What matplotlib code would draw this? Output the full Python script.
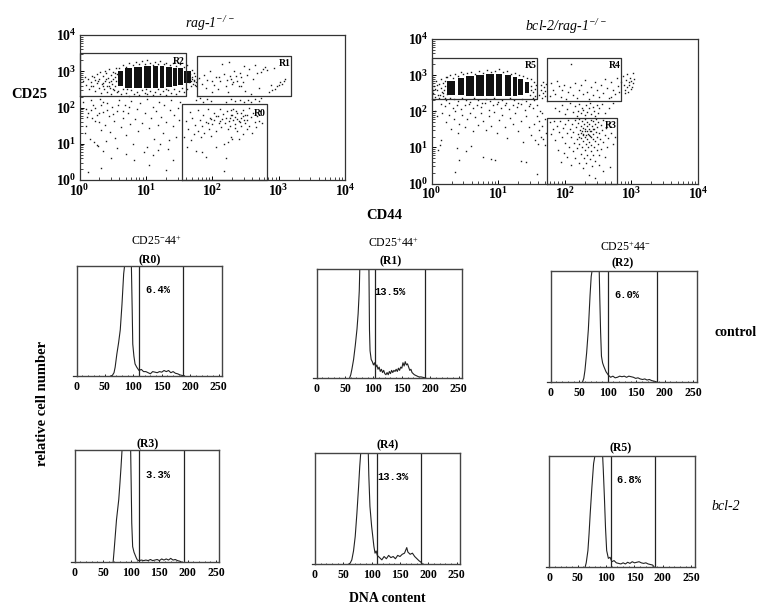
# Flow cytometry figure: CD25/CD44 dot plots and DNA content histograms
import numpy as np
import matplotlib
matplotlib.use("Agg")
import matplotlib.pyplot as plt
from matplotlib.ticker import LogLocator, LogFormatterMathtext, MultipleLocator

plt.rcParams['font.family'] = ['Liberation Serif', 'DejaVu Serif']
plt.rcParams['mathtext.default'] = 'regular'

W, H = 760, 603

# dot plot values, log10 of (CD44, CD25)
rag_band_left = [.58, .68, .82, .97, 1.10, 1.22, 1.30, 1.41, 1.49, 1.58]
rag_band_right = [.65, .79, .94, 1.08, 1.19, 1.28, 1.39, 1.47, 1.56, 1.68]
rag_band_low = [2.60, 2.55, 2.53, 2.53, 2.55, 2.55, 2.57, 2.60, 2.62, 2.68]
rag_band_high = [3.02, 3.08, 3.12, 3.14, 3.14, 3.14, 3.12, 3.10, 3.08, 3.02]
rag_dots = [
    # left of the band
    (.05,2.72),(.08,2.85),(.10,2.62),(.13,2.78),(.15,2.50),(.17,2.70),(.19,2.88),(.21,2.60),(.23,2.75),(.24,2.45),
    (.26,2.92),(.27,2.68),(.29,2.55),(.30,2.80),(.31,2.98),(.33,2.40),(.34,2.65),(.35,2.86),(.37,2.52),(.38,2.74),
    (.39,3.02),(.40,2.94),(.41,2.60),(.42,2.44),(.43,2.82),(.44,2.70),(.45,3.05),(.46,2.54),(.47,2.90),(.48,2.36),
    (.49,2.66),(.50,2.78),(.51,2.97),(.52,2.48),(.53,2.60),(.54,2.84),(.55,3.08),(.55,2.72),(.56,2.42),(.57,2.92),
    (.36,2.68),(.40,2.78),(.44,2.58),(.47,2.74),(.50,2.50),(.53,2.96),(.35,2.60),(.28,2.74),(.22,2.84),(.18,2.58),
    # above the band
    (.60,3.10),(.66,3.18),(.70,3.12),(.75,3.22),(.80,3.16),(.85,3.25),(.90,3.19),(.94,3.28),(.98,3.20),(1.02,3.30),
    (1.06,3.22),(1.10,3.18),(1.14,3.26),(1.18,3.21),(1.22,3.29),(1.27,3.19),(1.31,3.24),(1.36,3.17),(1.41,3.22),(1.46,3.15),
    (1.52,3.19),(1.58,3.13),(1.62,3.17),
    # under the band
    (.58,2.45),(.62,2.36),(.66,2.50),(.70,2.40),(.74,2.33),(.78,2.47),(.82,2.38),(.86,2.44),(.90,2.34),(.94,2.48),
    (.98,2.40),(1.02,2.36),(1.06,2.46),(1.10,2.34),(1.14,2.42),(1.18,2.50),(1.22,2.37),(1.26,2.45),(1.30,2.34),(1.34,2.48),
    (1.38,2.40),(1.42,2.52),(1.46,2.36),(1.50,2.46),(1.54,2.54),(1.58,2.42),(1.62,2.50),(1.30,2.50),(1.00,2.50),(.72,2.52),
    # right of the band, between the gates
    (1.66,2.92),(1.68,2.74),(1.70,2.84),(1.71,2.66),(1.72,2.96),(1.73,2.76),(1.74,2.88),(1.75,2.70),(1.76,2.58),(1.77,2.80),
    (1.68,2.60),(1.70,3.04),(1.65,2.70),(1.69,2.80),(1.72,2.72),(1.66,2.82),(1.74,2.62),(1.64,2.98),
    # R1 gate
    (1.80,2.82),(1.84,2.66),(1.88,2.90),(1.92,2.76),(1.96,3.00),(2.00,2.44),(2.03,2.62),(2.06,2.84),(2.09,2.50),(2.12,2.72),
    (2.15,3.20),(2.18,2.92),(2.20,2.60),(2.23,2.42),(2.25,3.26),(2.28,2.80),(2.30,2.66),(2.33,3.02),(2.36,2.88),(2.38,2.74),
    (2.40,2.58),(2.42,2.96),(2.44,2.84),(2.46,2.70),(2.48,3.14),(2.50,2.46),(2.53,2.90),(2.56,3.06),(2.58,2.38),(2.61,2.78),
    (2.64,3.18),(2.67,2.94),(2.70,2.54),(2.73,2.98),(2.76,3.06),(2.79,3.12),(2.82,3.04),(2.85,2.42),(2.88,2.62),(2.90,2.48),
    (2.93,3.10),(2.95,2.52),(2.98,2.58),(3.00,2.62),(3.02,2.70),(3.05,2.66),(3.08,2.74),(3.10,2.80),(2.10,2.84),(2.22,2.76),
    (2.32,2.70),(2.26,2.88),(2.44,2.60),(2.00,2.72),(1.90,2.54),
    # just under the R1 gate
    (1.76,2.22),(1.82,2.26),(1.86,2.16),(1.92,2.24),(1.98,2.18),(2.20,2.14),(2.28,2.24),(2.34,2.18),(2.42,2.22),(2.48,2.14),
    (2.54,2.22),(2.58,2.16),(2.64,2.24),(2.70,2.18),(2.74,2.26),
    # sparse lower left
    (.21,2.07),(.33,2.07),(.13,1.84),(.27,1.80),(.33,1.38),(.26,.97),(.33,.32),(.13,.23),(1.04,.42),(1.31,.28),
    (1.41,.55),(1.19,.83),(1.01,.92),(.06,2.16),(.10,1.96),(.17,2.20),(.19,1.70),(.24,2.00),(.29,1.60),(.31,2.24),
    (.36,1.88),(.38,1.52),(.41,2.12),(.44,1.76),(.46,1.32),(.49,2.02),(.52,1.62),(.54,1.16),(.57,1.90),(.60,2.22),
    (.62,1.46),(.65,1.72),(.68,2.08),(.70,1.24),(.73,1.86),(.76,1.54),(.78,2.18),(.80,1.00),(.83,1.68),(.86,1.96),
    (.88,1.34),(.91,2.12),(.94,1.58),(.97,.78),(.99,1.84),(1.02,2.24),(1.05,1.44),(1.07,1.70),(1.10,2.02),(1.12,1.12),
    (1.15,1.90),(1.18,1.52),(1.20,2.16),(1.23,1.74),(1.26,1.30),(1.28,2.06),(1.31,1.60),(1.33,.86),(1.36,1.92),(1.38,2.22),
    (1.41,1.48),(1.43,1.78),(1.46,1.20),(1.48,2.00),(1.50,1.66),(1.52,2.14),(1.10,.70),(.48,.60),(.36,.80),(.10,1.50),
    (.08,1.30),(.16,1.14),(.22,1.06),(.28,.94),(.40,1.08),(.56,.88),(.70,.72),(.82,.56),(1.22,1.00),(1.35,1.10),
    (.12,1.74),(.18,1.92),(.24,1.64),(.30,1.84),(.36,2.14),(.42,1.94),(.50,1.82),(.58,2.06),(.66,1.90),(.74,2.02),
    # R0 gate
    (1.58,1.20),(1.60,1.62),(1.62,.92),(1.64,1.42),(1.66,1.88),(1.68,1.10),(1.70,1.70),(1.72,1.26),(1.74,1.52),(1.76,.80),
    (1.78,1.92),(1.79,1.36),(1.81,1.66),(1.83,1.18),(1.85,1.48),(1.86,1.78),(1.88,1.30),(1.90,.64),(1.91,1.60),(1.93,1.96),
    (1.95,1.40),(1.96,1.72),(1.98,1.22),(2.00,1.54),(2.02,1.86),(2.03,1.66),(2.05,1.36),(2.06,.90),(2.08,1.76),(2.10,1.58),
    (2.11,1.96),(2.13,1.46),(2.14,1.68),(2.16,1.82),(2.17,.26),(2.19,1.56),(2.20,1.72),(2.22,1.90),(2.23,1.40),(2.25,1.62),
    (2.26,1.50),(2.28,1.80),(2.29,1.20),(2.31,1.66),(2.32,1.96),(2.34,1.54),(2.35,1.74),(2.37,1.34),(2.38,1.86),(2.40,1.62),
    (2.41,1.14),(2.43,1.48),(2.44,1.70),(2.46,1.92),(2.47,1.28),(2.49,1.58),(2.50,1.80),(2.52,1.42),(2.53,1.66),(2.55,1.98),
    (2.56,1.50),(2.58,1.74),(2.60,1.30),(2.62,1.86),(2.64,1.60),(2.66,1.46),(2.68,1.76),(2.70,1.64),(2.72,1.90),(2.75,1.56),
    (2.42,1.60),(2.38,1.68),(2.34,1.44),(2.30,1.78),(2.26,1.70),(2.12,1.64),(2.06,1.76),(1.98,1.68),(1.94,1.58),(2.46,1.76),
    (2.48,1.66),(2.44,1.84),(2.52,1.78),(2.36,1.90),(2.28,1.92),(2.18,1.00),(2.24,1.04),(2.30,1.12),(2.20,.60),(1.84,.78),
]

bcl_band_left = [.24, .40, .52, .67, .82, .97, 1.10, 1.23, 1.30, 1.40]
bcl_band_right = [.36, .49, .64, .79, .94, 1.06, 1.19, 1.28, 1.37, 1.47]
bcl_band_low = [2.45, 2.45, 2.42, 2.42, 2.42, 2.42, 2.42, 2.42, 2.45, 2.50]
bcl_band_high = [2.85, 2.92, 2.98, 3.00, 3.04, 3.04, 3.00, 2.95, 2.88, 2.80]
bcl_dots = [
    # left and around the band
    (.02,2.50),(.04,2.70),(.05,2.40),(.07,2.84),(.08,2.58),(.10,2.46),(.11,2.76),(.12,2.38),(.14,2.64),(.15,2.90),
    (.16,2.52),(.17,2.42),(.18,2.78),(.19,2.60),(.20,2.36),(.21,2.70),(.22,2.94),(.23,2.48),(.06,2.62),(.09,2.72),
    (.13,2.44),(.18,2.50),(.20,2.84),(.03,2.60),(.24,2.96),(.28,3.00),(.32,2.92),(.36,3.04),(.40,2.98),(.44,3.08),
    (.48,3.02),(.54,3.06),(.60,3.10),(.66,3.04),(.72,3.12),(.78,3.06),(.84,3.14),(.90,3.08),(.96,3.12),(1.02,3.16),
    (1.08,3.08),(1.14,3.12),(1.20,3.04),(1.26,3.06),(1.32,3.00),(1.38,2.98),(1.44,2.92),(1.50,2.88),(1.54,2.80),(1.56,2.62),
    (1.50,2.70),(1.52,2.54),(1.48,2.46),(1.55,2.42),(1.53,2.36),(1.49,2.58),(1.57,2.72),
    # under the band
    (.22,2.30),(.28,2.38),(.34,2.34),(.40,2.28),(.46,2.36),(.52,2.32),(.58,2.26),(.64,2.36),(.70,2.30),(.76,2.24),
    (.82,2.34),(.88,2.28),(.94,2.36),(1.00,2.26),(1.06,2.32),(1.12,2.24),(1.18,2.36),(1.24,2.30),(1.30,2.22),(1.36,2.34),
    (1.42,2.28),(1.48,2.20),(1.54,2.30),(.14,2.20),(.20,2.14),(.27,2.22),(.33,2.10),(.39,2.18),(.45,2.06),(.51,2.16),
    (.57,2.20),(.63,2.08),(.69,2.18),(.75,2.12),(.81,2.22),(.87,2.04),(.93,2.16),(.99,2.20),(1.05,2.10),(1.11,2.16),
    (1.17,2.06),(1.23,2.18),(1.29,2.12),(1.35,2.20),(1.41,2.04),(1.47,2.14),(1.53,2.08),(1.59,2.16),(1.63,2.02),
    # sparse lower left
    (.06,2.02),(.08,1.88),(.16,1.96),(.22,1.70),(.26,1.90),(.30,1.52),(.34,1.78),(.36,2.00),(.40,1.40),(.42,1.66),
    (.46,1.90),(.50,1.56),(.54,1.78),(.58,1.96),(.62,1.46),(.66,1.84),(.70,1.62),(.74,1.94),(.78,1.72),(.82,1.48),
    (.86,1.86),(.90,1.60),(.94,1.98),(.98,1.40),(1.02,1.76),(1.06,1.90),(1.10,1.56),(1.14,1.26),(1.18,1.82),(1.22,1.66),
    (1.26,1.94),(1.30,1.46),(1.34,1.72),(1.38,1.16),(1.42,1.86),(1.46,1.56),(1.50,1.34),(1.54,1.66),(1.58,1.86),(1.60,1.10),
    (1.62,1.48),(1.64,1.28),(1.66,1.60),(1.68,1.24),(1.70,1.78),(1.72,1.40),(1.71,1.06),(1.66,1.94),(1.61,1.72),(1.56,1.20),
    (.15,1.20),(.13,1.06),(.10,.94),(.38,.98),(.42,.66),(.36,.32),(.78,.74),(.90,.68),(.96,.66),(1.34,.62),
    (1.58,.26),(1.42,.60),(.60,1.04),(.52,.90),
    # R4 gate
    (1.78,2.42),(1.80,2.78),(1.83,2.60),(1.86,2.48),(1.88,2.84),(1.91,2.70),(1.94,2.40),(1.96,2.58),(1.99,2.72),(2.02,2.34),
    (2.05,2.52),(2.08,2.66),(2.10,3.30),(2.12,2.46),(2.15,2.78),(2.18,2.38),(2.21,2.60),(2.24,2.72),(2.27,2.48),(2.30,2.86),
    (2.33,2.54),(2.36,2.34),(2.39,2.68),(2.42,2.44),(2.45,2.82),(2.48,2.58),(2.51,2.40),(2.54,2.74),(2.57,2.50),(2.60,2.90),
    (2.63,2.64),(2.66,2.36),(2.69,2.80),(2.72,2.60),(2.75,2.48),(2.78,2.92),(2.80,2.70),(2.82,2.54),(2.84,2.82),(2.70,2.40),
    # past the R4 gate
    (2.87,2.98),(2.89,2.74),(2.90,2.60),(2.92,2.86),(2.93,2.68),(2.94,3.02),(2.95,2.54),(2.96,2.80),(2.97,2.72),(2.98,2.92),
    (2.99,2.62),(3.00,2.84),(3.01,2.66),(3.02,3.06),(3.03,2.78),(3.04,2.88),(2.91,2.50),
    # between the gates
    (1.62,2.46),(1.64,2.72),(1.65,2.60),(1.67,2.50),(1.68,2.82),(1.69,2.66),(1.70,2.42),(1.71,2.56),(1.72,2.76),(1.66,2.36),
    # above the R3 gate
    (1.86,2.10),(1.92,2.00),(1.96,2.18),(2.00,1.92),(2.04,2.06),(2.08,2.24),(2.12,1.98),(2.16,2.14),(2.18,1.88),(2.20,2.02),
    (2.22,2.20),(2.24,1.94),(2.26,2.10),(2.28,2.04),(2.30,1.90),(2.32,2.16),(2.34,1.98),(2.36,2.08),(2.38,2.24),(2.40,1.92),
    (2.42,2.12),(2.44,2.02),(2.46,1.88),(2.48,2.18),(2.50,1.96),(2.52,2.08),(2.56,2.20),(2.60,1.94),(2.66,2.10),(2.72,2.24),
    # R3 gate
    (1.78,1.70),(1.80,1.36),(1.82,1.52),(1.84,1.74),(1.86,1.20),(1.88,1.60),(1.90,.94),(1.91,1.42),(1.93,1.74),(1.94,.60),
    (1.96,1.28),(1.97,1.54),(1.99,.84),(2.00,1.66),(2.01,1.12),(2.03,1.40),(2.04,.74),(2.05,1.76),(2.06,1.00),(2.08,1.50),
    (2.09,.50),(2.10,1.28),(2.11,1.66),(2.12,.90),(2.13,1.42),(2.14,1.12),(2.15,1.76),(2.16,.70),(2.17,1.56),(2.18,1.24),
    (2.19,.98),(2.20,1.68),(2.20,1.38),(2.21,.56),(2.22,1.10),(2.22,1.78),(2.23,1.48),(2.24,.82),(2.24,1.26),(2.25,1.60),
    (2.26,1.02),(2.26,1.74),(2.27,.42),(2.27,1.36),(2.28,1.18),(2.28,1.54),(2.29,.70),(2.29,1.66),(2.30,1.30),(2.30,.94),
    (2.31,1.44),(2.31,1.78),(2.32,1.08),(2.32,.58),(2.33,1.58),(2.33,1.22),(2.34,1.70),(2.34,.80),(2.35,1.38),(2.35,1.00),
    (2.36,1.52),(2.36,.24),(2.37,1.14),(2.37,1.64),(2.38,.68),(2.38,1.32),(2.39,1.76),(2.39,.90),(2.40,1.46),(2.40,1.06),
    (2.41,1.60),(2.41,.48),(2.42,1.24),(2.42,1.72),(2.43,.78),(2.43,1.38),(2.44,1.52),(2.44,1.02),(2.45,1.66),(2.45,.16),
    (2.46,1.18),(2.46,.62),(2.47,1.78),(2.47,1.42),(2.48,.92),(2.48,1.30),(2.49,1.56),(2.50,1.08),(2.50,1.70),(2.51,.50),
    (2.52,1.40),(2.52,.80),(2.53,1.24),(2.54,1.62),(2.55,.96),(2.56,1.48),(2.57,.34),(2.58,1.16),(2.58,1.76),(2.60,1.34),
    (2.61,.72),(2.62,1.54),(2.63,1.02),(2.65,1.26),(2.66,1.68),(2.68,.46),(2.70,1.40),(2.72,1.10),(2.76,1.28),(2.30,1.50),
    (2.34,1.46),(2.26,1.46),(2.36,1.34),(2.40,1.28),(2.32,1.34),(2.28,1.34),(2.24,1.40),(2.38,1.44),(2.42,1.50),(2.22,1.30),
]

rag_gates = [("R2", 0.0, 1.60, 2.31, 3.50), ("R1", 1.77, 3.19, 2.31, 3.43), ("R0", 1.54, 2.82, 0.0, 2.09)]
bcl_gates = [("R5", 0.0, 1.59, 2.33, 3.47), ("R4", 1.73, 2.85, 2.29, 3.48), ("R3", 1.74, 2.78, 0.0, 1.81)]

# histogram values, DNA channel and fraction of the clipped peak height
hist_names = ["R0", "R1", "R2", "R3", "R4", "R5"]
hist_pct = ["6.4%", "13.5%", "6.0%", "3.3%", "13.3%", "6.8%"]
gate_low = [110, 103, 101, 113, 110, 108]
gate_high = [188, 191, 186, 193, 187, 186]
r0_x = [60,63,66,68,71,74,77,80,83,85,96.5,98,99,101,103,106,110,114,118,122,126,130,134,138,142,146,150,154,158,162,166,170,174,178,182,186,190]
r0_y = [0,.005,.03,.08,.2,.3,.42,.65,.93,1.02,1.02,.6,.29,.18,.11,.08,.05,.06,.04,.04,.03,.02,.04,.035,.03,.04,.035,.05,.04,.05,.03,.04,.025,.02,.01,.005,0]
r1_x = [58,60,62,65,68,71,73,75,76,92,93,94,96,98,100,102,104,106,108,110,112,114,116,118,120,122,124,126,128,130,132,134,136,138,140,142,144,146,148,150,152,154,156,158,160,162,164,166,168,170,172,174,176,178,180,184,188,192]
r1_y = [0,.03,.08,.17,.3,.45,.59,.8,1.02,1.02,.44,.25,.17,.15,.12,.14,.10,.12,.08,.10,.06,.08,.05,.07,.04,.03,.05,.03,.06,.04,.07,.05,.07,.06,.08,.06,.09,.07,.10,.09,.14,.11,.15,.12,.13,.10,.07,.08,.05,.04,.03,.025,.02,.015,.01,.01,.005,0]
r2_x = [56,58,60,63,66,69,71,73,85,86,87.5,89,91,93,97,101,105,109,113,117,121,125,129,133,137,141,145,149,153,157,161,165,169,173,177,181,185]
r2_y = [0,.03,.1,.26,.47,.78,.95,1.02,1.02,.77,.45,.23,.17,.14,.09,.06,.04,.05,.035,.04,.05,.045,.05,.04,.05,.045,.04,.03,.035,.025,.02,.025,.015,.02,.01,.005,0]
r3_x = [68,70,72,74,76,78,80,82,84,99,100,101,102.6,105,107,109,111,114,118,122,126,130,134,138,142,146,150,154,158,162,166,170,174,178,182,186,190]
r3_y = [0,.12,.25,.38,.47,.56,.7,.85,1.02,1.02,.7,.35,.14,.09,.065,.04,.02,.015,.02,.015,.02,.015,.025,.015,.02,.025,.015,.03,.02,.03,.02,.035,.02,.025,.015,.01,0]
r4_x = [59,62,65,68,71,74,77,79,81,94,95,97,100,102,104,106,108,110,114,118,122,126,130,134,138,142,146,150,154,158,162,164,168,172,176,180,184,187,190]
r4_y = [0,.01,.04,.12,.25,.46,.7,.88,1.02,1.02,.8,.52,.34,.25,.16,.1,.12,.08,.06,.04,.07,.05,.08,.06,.07,.05,.08,.07,.09,.1,.15,.11,.09,.1,.07,.05,.03,.02,0]
r5_x = [63,65,68,70,72,75,78,80,82,93.7,95,97,99,101,104,107,110,114,118,122,126,130,134,138,142,146,150,154,158,162,166,170,174,178,182,185]
r5_y = [0,.04,.15,.3,.48,.72,.93,.99,1.02,1.02,.88,.63,.35,.15,.08,.09,.05,.06,.04,.035,.03,.04,.03,.045,.035,.05,.04,.045,.05,.04,.035,.04,.03,.025,.02,0]
hist_x = [r0_x, r1_x, r2_x, r3_x, r4_x, r5_x]
hist_y = [r0_y, r1_y, r2_y, r3_y, r4_y, r5_y]

fig = plt.figure(figsize=(W / 100, H / 100), dpi=100, facecolor="white")


def add_ax(left, top, right, bottom):
    return fig.add_axes([left / W, 1 - bottom / H, (right - left) / W, (bottom - top) / H])


def label(px, py, s, **kw):
    kw.setdefault("ha", "center")
    kw.setdefault("va", "center")
    fig.text(px / W, 1 - py / H, s, **kw)


def dot_plot(box, dots, left, right, low, high, gates, tags):
    ax = add_ax(*box)
    xs, ys = zip(*dots)
    for l, r, lo, hi in zip(left, right, low, high):
        ax.fill([10**l, 10**r, 10**r, 10**l], [10**lo, 10**lo, 10**hi, 10**hi], color="#111111", lw=0)
    ax.plot(10 ** np.array(xs), 10 ** np.array(ys), ls="", marker="s", ms=1.0, mew=0, color="#1a1a1a")
    for name, x0, x1, y0, y1 in gates:
        ax.plot([10**x0, 10**x1, 10**x1, 10**x0, 10**x0], [10**y0, 10**y0, 10**y1, 10**y1, 10**y0],
                color="#333333", lw=0.9, clip_on=False)
    ax.set_xscale("log")
    ax.set_yscale("log")
    ax.set_xlim(1, 1e4)
    ax.set_ylim(1, 1e4)
    for axis in (ax.xaxis, ax.yaxis):
        axis.set_major_locator(LogLocator(base=10, numticks=6))
        axis.set_minor_locator(LogLocator(base=10, subs=np.arange(2, 10), numticks=6))
        axis.set_major_formatter(LogFormatterMathtext())
        axis.set_minor_formatter(plt.NullFormatter())
    ax.tick_params(which="major", direction="in", length=3, width=0.7, labelsize=10, pad=2)
    ax.tick_params(which="minor", direction="in", length=2, width=0.5)
    plt.setp(ax.get_xticklabels() + ax.get_yticklabels(), fontweight="bold")
    for s in ax.spines.values():
        s.set_linewidth(0.9)
        s.set_color("#333333")
    for (name, x0, x1, y0, y1), (px, py) in zip(gates, tags):
        label(px, py, name, fontsize=7, fontweight="bold")


dot_plot((79.5, 35, 345, 180), rag_dots, rag_band_left, rag_band_right, rag_band_low, rag_band_high,
         rag_gates, [(179, 62), (285, 64), (260, 113)])
dot_plot((431.5, 39, 698, 183.5), bcl_dots, bcl_band_left, bcl_band_right, bcl_band_low, bcl_band_high,
         bcl_gates, [(531, 66), (615, 66), (611, 126)])

hist_boxes = [(76.5, 266, 222, 376), (316.7, 269, 462, 378), (550.7, 271, 696.7, 381.7),
              (74.7, 450.3, 219.3, 562.3), (315, 453, 460, 564.3), (549.3, 455.7, 694.7, 567.3)]
for i, box in enumerate(hist_boxes):
    ax = add_ax(*box)
    ax.plot(hist_x[i], hist_y[i], color="#222222", lw=0.8)
    ax.axvline(gate_low[i], color="#222222", lw=0.9)
    ax.axvline(gate_high[i], color="#222222", lw=0.9)
    ax.plot([-6, 0], [0, 0], color="#333333", lw=0.9, clip_on=False)
    ax.set_xlim(0, 256)
    ax.set_ylim(0, 1)
    ax.set_yticks([])
    ax.xaxis.set_major_locator(MultipleLocator(50))
    ax.xaxis.set_minor_locator(MultipleLocator(10))
    ax.tick_params(which="major", direction="in", length=1.5, width=0.6, labelsize=8.5, pad=3.5)
    ax.tick_params(which="minor", direction="in", length=1, width=0.5)
    plt.setp(ax.get_xticklabels(), fontweight="bold")
    for s in ax.spines.values():
        s.set_linewidth(1.0)
        s.set_color("#444444")

# headings and side labels
label(210, 24, "rag-1$^{-/-}$", fontsize=10, fontstyle="italic")
label(566, 27, "bcl-2/rag-1$^{-/-}$", fontsize=10, fontstyle="italic")
label(29, 94, "CD25", fontsize=10.5, fontweight="bold")
label(384, 216, "CD44", fontsize=10.5, fontweight="bold")
label(157, 241, "CD25$^{-}$44$^{+}$", fontsize=8.5)
label(394, 243, "CD25$^{+}$44$^{+}$", fontsize=8.5)
label(626, 247, "CD25$^{+}$44$^{-}$", fontsize=8.5)
region_pos = [(150, 260), (391, 261), (623, 263), (148, 444), (388, 445), (621, 448)]
pct_pos = [(158, 290), (390, 292), (627, 295), (157.5, 475), (392.5, 477), (629, 480)]
for name, (px, py) in zip(hist_names, region_pos):
    label(px, py, f"({name})", fontsize=8.5, fontweight="bold")
for pct, (px, py) in zip(hist_pct, pct_pos):
    label(px, py, pct, fontsize=7.5, family="Liberation Mono", fontweight="bold")
label(736, 332, "control", fontsize=10, fontweight="bold")
label(726, 507, "bcl-2", fontsize=10, fontstyle="italic")
label(43, 403, "relative cell number", fontsize=10.5, fontweight="bold", rotation=90)
label(387, 598, "DNA content", fontsize=10, fontweight="bold")

fig.savefig("out.png", dpi=100)
